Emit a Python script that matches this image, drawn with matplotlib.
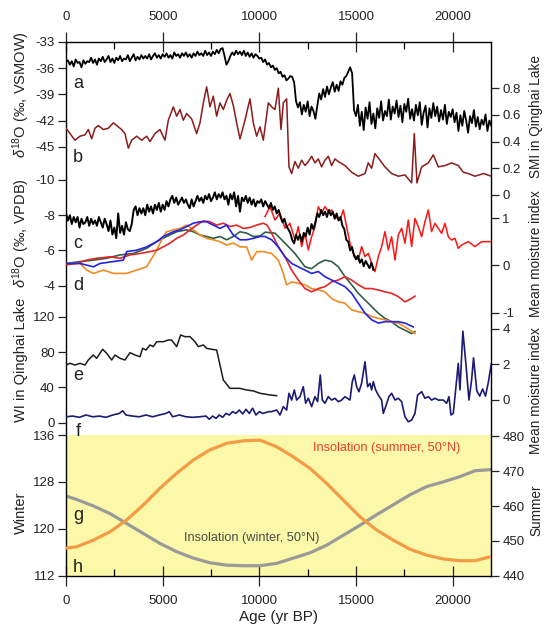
import numpy as np
import matplotlib
matplotlib.use('Agg')
import matplotlib.pyplot as plt
from matplotlib.ticker import MultipleLocator

plt.rcParams['font.family'] = ['Liberation Sans', 'DejaVu Sans']
plt.rcParams['axes.unicode_minus'] = False
plt.rcParams['mathtext.fontset'] = 'custom'
plt.rcParams['mathtext.rm'] = 'Liberation Sans'
plt.rcParams['mathtext.it'] = 'Liberation Sans:italic'

# ---------------- data ----------------
# a : ice core d18O (permil VSMOW), one value every 100 yr, 0..22000
age_a = np.arange(0, 22001, 100)
d18o_vsmow = [
    -35.3, -35.1, -35.6, -35.2, -35.8, -35.0, -35.4, -35.3, -35.9, -35.1,
    -35.5, -35.2, -35.3, -34.8, -35.4, -35.0, -35.6, -34.9, -35.2, -34.7,
    -35.3, -35.0, -34.6, -35.3, -34.9, -35.4, -34.8, -35.1, -34.6, -35.2,
    -34.9, -35.0, -34.5, -35.2, -34.8, -34.4, -35.1, -34.7, -35.0, -34.5,
    -34.9, -34.6, -34.9, -34.4, -35.0, -34.6, -34.3, -34.8, -34.5, -34.9,
    -34.4, -34.7, -34.3, -34.8, -34.5, -34.9, -34.2, -34.6, -34.4, -34.8,
    -34.3, -34.6, -34.2, -34.7, -34.4, -34.8, -34.3, -34.6, -34.1, -34.5,
    -34.3, -34.6, -34.0, -34.5, -34.2, -34.6, -34.1, -34.4, -33.9, -34.3,
    -33.8, -33.7, -34.6, -35.6, -35.2, -34.6, -34.2, -34.5, -34.0, -34.4,
    -34.1, -34.5, -34.0, -34.6, -34.2, -34.7, -34.3, -34.8, -34.4, -34.6,
    -34.9, -34.8, -35.3, -35.0, -35.6, -35.4, -35.9, -35.7, -36.2, -36.0,
    -36.6, -36.4, -37.0, -36.8, -37.4, -37.2, -36.9, -37.0, -37.6, -39.8,
    -40.5, -39.9, -41.3, -40.2, -41.0, -39.8, -41.5, -40.4, -40.9, -41.8,
    -40.3, -38.9, -39.6, -38.4, -39.3, -38.1, -39.0, -38.2, -37.6, -38.7,
    -37.9, -38.6, -37.5, -37.9, -37.1, -36.9, -36.4, -35.9, -36.6, -40.8,
    -41.5, -40.2, -42.6, -41.0, -43.1, -40.5, -41.8, -39.9, -42.4, -41.2,
    -42.9, -40.6, -41.7, -39.8, -42.0, -40.9, -41.5, -39.6, -41.9, -40.4,
    -41.2, -39.7, -41.6, -40.3, -42.2, -40.1, -41.0, -39.5, -41.8, -40.7,
    -42.0, -40.2, -41.4, -39.9, -42.5, -41.1, -40.3, -42.8, -40.6, -41.7,
    -40.0, -41.5, -40.4, -42.1, -40.8, -41.9, -40.2, -42.4, -41.0, -41.6,
    -40.7, -42.2, -41.1, -43.2, -41.4, -42.6, -40.9, -42.0, -43.4, -41.5,
    -42.3, -40.8, -42.7, -41.6, -43.0, -41.9, -42.5, -41.3, -43.2, -42.0,
    -42.6]

# b : SMI in Qinghai Lake
smi_pts = [
    (0, .50), (207, .46), (465, .41), (724, .44), (983, .45), (1155, .49), (1328, .42),
    (1500, .50), (1672, .52), (1931, .49), (2190, .50), (2448, .54), (2707, .51),
    (2879, .49), (3051, .46), (3224, .35), (3396, .41), (3655, .44), (3914, .41),
    (4172, .44), (4345, .40), (4603, .46), (4862, .49), (5120, .41), (5293, .56),
    (5551, .66), (5724, .59), (5896, .64), (6069, .56), (6241, .61), (6500, .57),
    (6758, .46), (6931, .54), (7103, .69), (7275, .81), (7448, .66), (7620, .74),
    (7793, .59), (7965, .69), (8138, .64), (8310, .71), (8482, .76), (8655, .67),
    (8827, .54), (9000, .42), (9258, .56), (9517, .72), (9689, .54), (9862, .44),
    (10034, .51), (10206, .41), (10465, .69), (10637, .66), (10809, .64), (10982, .80),
    (11120, .49), (11240, .69), (11413, .72), (11534, .21), (11672, .16), (11844, .25),
    (12016, .20), (12189, .26), (12361, .22), (12534, .25), (12706, .29), (12878, .24),
    (13051, .27), (13223, .21), (13396, .26), (13568, .29), (13740, .22), (13913, .27),
    (14085, .25), (14430, .22), (14775, .17), (15120, .14), (15465, .16), (15637, .24),
    (15810, .20), (15982, .31), (16241, .26), (16499, .21), (16844, .16), (17189, .14),
    (17534, .15), (17879, .09), (18016, .46), (18154, .09), (18396, .21), (18741, .24),
    (18999, .30), (19258, .21), (19603, .22), (19948, .24), (20292, .22), (20551, .17),
    (20810, .16), (21154, .14), (21600, .16), (22000, .14)]

# c : speleothem d18O (permil VPDB); black record every 100 yr, 0..15900
age_c = np.arange(0, 16000, 100)
d18o_vpdb = [
    -8.1, -7.7, -8.0, -7.5, -7.9, -7.6, -7.9, -7.3, -7.8, -7.5,
    -7.6, -7.9, -7.4, -7.8, -7.5, -7.7, -7.4, -7.9, -7.6, -7.3,
    -7.8, -7.5, -7.1, -7.7, -6.9, -7.3, -6.7, -8.1, -7.0, -7.4,
    -6.9, -7.6, -7.2, -7.1, -7.5, -8.3, -8.5, -8.0, -8.4, -8.1,
    -8.4, -8.0, -8.6, -8.2, -8.5, -8.1, -8.6, -8.3, -8.7, -8.2,
    -8.6, -8.3, -8.8, -8.5, -8.9, -9.1, -8.7, -9.0, -8.6, -8.8,
    -9.0, -8.7, -8.9, -8.6, -8.4, -8.9, -8.5, -8.8, -9.1, -8.8,
    -9.0, -8.7, -9.1, -8.9, -9.2, -8.8, -9.0, -9.3, -8.9, -9.2,
    -9.0, -9.3, -8.9, -9.1, -8.6, -9.2, -8.9, -9.3, -8.5, -9.1,
    -8.2, -9.0, -8.8, -9.1, -8.7, -9.0, -8.6, -8.9, -8.5, -8.8,
    -8.7, -8.9, -8.5, -8.8, -8.6, -8.4, -8.7, -8.3, -8.5, -8.1,
    -8.3, -7.9, -7.6, -7.8, -7.4, -7.2, -7.0, -6.6, -6.4, -6.9,
    -6.6, -6.9, -6.5, -7.0, -6.8, -7.3, -6.9, -7.5, -7.2, -7.6,
    -8.1, -7.9, -8.3, -8.0, -8.2, -7.9, -8.3, -8.0, -8.2, -7.8,
    -8.1, -7.7, -7.9, -7.4, -7.2, -6.6, -6.5, -6.0, -6.2, -5.7,
    -5.5, -5.7, -5.3, -5.5, -5.1, -5.4, -5.2, -5.0, -5.3, -4.9]

# c : second (red) speleothem record
vpdb_red_pts = [
    (10292, -7.92), (10551, -8.49), (10809, -7.73), (11068, -8.11), (11327, -7.26),
    (11586, -7.54), (11844, -6.59), (12016, -7.35), (12189, -6.22), (12361, -6.97),
    (12534, -6.03), (12706, -6.78), (12878, -7.35), (13051, -8.49), (13223, -8.11),
    (13396, -8.49), (13568, -8.20), (13740, -8.30), (13913, -7.92), (14171, -7.73),
    (14344, -8.30), (14516, -7.35), (14689, -6.41), (14861, -5.84), (15120, -5.46),
    (15292, -6.22), (15465, -5.65), (15637, -5.84), (15810, -5.27), (15982, -4.80),
    (16155, -5.65), (16327, -6.22), (16499, -7.07), (16672, -6.03), (16844, -6.78),
    (17017, -5.46), (17189, -6.88), (17362, -7.26), (17534, -6.41), (17706, -7.73),
    (17879, -6.22), (18051, -7.82), (18223, -7.35), (18396, -6.78), (18568, -7.63),
    (18741, -8.30), (18913, -7.07), (19086, -7.54), (19258, -7.26), (19430, -6.97),
    (19603, -7.54), (19775, -6.78), (19948, -6.59), (20120, -6.69), (20292, -6.12),
    (20465, -6.31), (20637, -6.41), (20810, -6.50), (21154, -6.22), (21500, -6.50),
    (22000, -6.50)]

# d : mean moisture index, four regional composites
mmi_green = [
    (0, .04), (724, .08), (1414, .11), (2103, .15), (2793, .22), (3483, .25), (4172, .36),
    (4690, .50), (5207, .61), (5724, .71), (6241, .75), (6586, .71), (6931, .64),
    (7275, .61), (7620, .57), (7965, .61), (8310, .54), (8655, .61), (9000, .71),
    (9345, .68), (9689, .61), (10034, .62), (10300, .70), (10809, .68), (11327, .47),
    (11844, .25), (12361, -.03), (12706, -.07), (13051, .04), (13396, .11), (13740, .08),
    (14085, -.03), (14430, -.24), (14775, -.41), (15120, -.59), (15465, -.73),
    (15810, -.87), (16155, -1.01), (16499, -1.12), (16844, -1.19), (17189, -1.30),
    (17534, -1.37), (17879, -1.44), (18050, -1.40)]
mmi_blue = [
    (0, .04), (724, .04), (1414, -.03), (1759, .04), (2448, .08), (2966, .11), (3138, .29),
    (3655, .32), (4172, .39), (4690, .50), (5034, .61), (5551, .71), (5896, .75),
    (6241, .82), (6586, .89), (6931, .92), (7275, .92), (7620, .85), (7965, .78),
    (8310, .85), (8655, .64), (9000, .54), (9345, .54), (9689, .57), (10034, .61),
    (10292, .61), (10637, .54), (10982, .39), (11327, .18), (11672, .04), (12016, -.03),
    (12361, -.10), (12706, -.17), (13051, -.13), (13396, -.24), (13740, -.31),
    (14085, -.38), (14430, -.45), (14775, -.59), (15120, -.80), (15465, -1.01),
    (15810, -1.15), (16155, -1.22), (16499, -1.19), (16844, -1.19), (17189, -1.19),
    (17534, -1.22), (17965, -1.30)]
mmi_red = [
    (0, .01), (552, .04), (1069, .11), (1586, .15), (2276, .18), (2793, .15), (3310, .22),
    (3827, .25), (4345, .29), (4690, .32), (5034, .39), (5379, .47), (5724, .57),
    (6069, .64), (6414, .75), (6758, .85), (7103, .94), (7448, .92), (7793, .85),
    (8138, .89), (8482, .82), (8827, .85), (9172, .78), (9517, .80), (9862, .85),
    (10206, .89), (10400, .85), (10637, .68), (10982, .39), (11327, .18), (11672, -.10),
    (12016, -.31), (12361, -.49), (12706, -.56), (13051, -.49), (13396, -.45),
    (13740, -.35), (14085, -.31), (14430, -.24), (14775, -.31), (15120, -.41),
    (15465, -.49), (15810, -.49), (16155, -.52), (16499, -.56), (16844, -.59),
    (17189, -.66), (17534, -.77), (17879, -.70), (18051, -.65)]
mmi_orange = [
    (0, .04), (724, .04), (1069, -.10), (1414, -.17), (1931, -.10), (2448, -.17),
    (3138, -.17), (3655, -.10), (4172, -.03), (4690, .32), (5034, .61), (5207, .71),
    (5551, .75), (5896, .78), (6241, .85), (6586, .75), (6931, .64), (7275, .57),
    (7620, .54), (7965, .50), (8310, .43), (8655, .47), (9000, .39), (9345, .39),
    (9603, .11), (9862, .29), (10206, .29), (10637, .25), (10982, .11), (11240, -.17),
    (11413, -.41), (11672, -.35), (12016, -.38), (12361, -.41), (12706, -.49),
    (13051, -.52), (13396, -.56), (13740, -.70), (14085, -.77), (14430, -.80),
    (14775, -.94), (15120, -.98), (15465, -1.01), (15810, -1.08), (16155, -1.12),
    (16499, -1.15), (16844, -1.19), (17189, -1.22), (17534, -1.30), (18051, -1.44)]

# e : WI in Qinghai Lake
wi_pts = [
    (0, 65.3), (207, 67.2), (465, 65.3), (724, 67.2), (983, 65.3), (1155, 71.0),
    (1414, 76.6), (1586, 72.9), (1896, 83.1), (2103, 78.6), (2362, 71.0), (2534, 76.6),
    (2793, 72.9), (3051, 71.0), (3310, 79.3), (3569, 76.6), (3827, 74.7), (3965, 84.2),
    (4138, 82.3), (4345, 88.0), (4517, 86.1), (4690, 91.7), (5034, 91.7), (5293, 93.6),
    (5465, 93.6), (5724, 86.1), (5931, 99.3), (6155, 97.4), (6414, 97.4), (6672, 91.7),
    (6844, 86.1), (7103, 88.0), (7275, 84.2), (7534, 83.1), (7793, 82.3), (8138, 48.3),
    (8482, 38.9), (9000, 38.9), (9345, 37.0), (9689, 36.0), (10034, 33.3),
    (10551, 31.4), (10896, 30.6)]

# f : mean moisture index (second region)
mmi2_pts = [
    (0, -.96), (345, -.92), (690, -.99), (1034, -.86), (1379, -.96), (1724, -.92),
    (2069, -.99), (2414, -.86), (2758, -.77), (2931, -.62), (3103, -.86), (3448, -.92),
    (3793, -.96), (4138, -.86), (4483, -.96), (4827, -.86), (5172, -.77), (5345, -.67),
    (5517, -.96), (5862, -.86), (6207, -.96), (6552, -.99), (6896, -.96), (7241, -.92),
    (7414, -1.10), (7586, -.92), (7758, -1.05), (7931, -.86), (8103, -.99), (8276, -.77),
    (8448, -.86), (8620, -.67), (8793, -.77), (8965, -.58), (9138, -.80), (9310, -.54),
    (9483, -.77), (9655, -.48), (9827, -.86), (10000, -.67), (10172, -.77),
    (10500, -.67), (10637, -.67), (10896, -.58), (11068, -.86), (11240, -.39),
    (11413, -.58), (11534, .36), (11672, -.02), (11810, .55), (11930, -.02),
    (12103, .17), (12275, .73), (12396, -.20), (12534, .08), (12706, -.39),
    (12878, .17), (13016, -.11), (13154, 1.39), (13258, -.02), (13396, -.20),
    (13568, .17), (13740, -.02), (13913, .08), (14085, -.11), (14258, -.02),
    (14430, .17), (14689, -.02), (14810, 1.01), (14913, 1.39), (15034, .73),
    (15154, .45), (15292, .92), (15465, 2.13), (15603, .73), (15723, .92),
    (15810, .55), (15896, 1.01), (16017, .55), (16155, .26), (16327, -.02),
    (16413, -.77), (16534, -.39), (16706, .17), (16844, .36), (17017, -.02),
    (17189, .08), (17362, -.11), (17534, -.96), (17706, -1.24), (17879, -1.14),
    (18051, -.77), (18189, .26), (18396, .45), (18568, .08), (18741, .17),
    (18913, -.02), (19086, .08), (19258, -.02), (19516, -.02), (19689, -.20),
    (19810, .17), (19913, -.86), (20034, -.77), (20155, .55), (20292, 2.04),
    (20379, .55), (20530, 3.85), (20700, 1.85), (20843, -.02), (20982, 1.11),
    (21080, 2.35), (21250, .50), (21400, .20), (21550, .60), (21700, .20),
    (21850, 1.00), (22000, 2.00)]

# g / h : insolation at 50N (W/m2)
ins_age = [0, 552, 1414, 2276, 3138, 4000, 4862, 5724, 6586, 7448, 8310, 9172, 10034,
           10896, 11758, 12620, 13482, 14344, 15206, 16068, 16930, 17792, 18654, 19516,
           20378, 21154, 22000]
ins_winter = [125.6, 125.0, 123.9, 122.6, 120.9, 119.2, 117.5, 116.1, 115.0, 114.2,
              113.8, 113.7, 113.7, 114.1, 115.0, 115.9, 117.2, 118.9, 120.6, 122.4,
              124.1, 125.8, 127.2, 128.0, 128.9, 129.9, 130.1]
ins_summer = [447.9, 448.3, 450.2, 452.6, 456.0, 460.3, 465.1, 469.4, 473.2, 476.1,
              478.0, 478.7, 478.9, 477.0, 474.1, 470.8, 466.5, 461.7, 456.9, 453.1,
              450.2, 447.6, 445.9, 444.8, 444.3, 444.3, 445.5]

# ---------------- layout (pixel rows / columns of the 545x631 image) ----------------
W, H = 545, 631
L, R, T, B = 66, 491.3, 42, 575.7
rect = [L / W, 1 - B / H, (R - L) / W, (B - T) / H]


def fx(px):
    return px / W


def fy(py):
    return 1 - py / H


def ylims(v1, p1, v2, p2):
    # y limits so that value v1 sits at pixel row p1 and v2 at row p2
    k = (v1 - v2) / (p2 - p1)
    return v2 - (B - p2) * k, v1 + (p1 - T) * k


TXT = '#222222'
fig = plt.figure(figsize=(W / 100, H / 100), dpi=100)

# main axes = winter insolation scale, carries the frame and the x axis
ax = fig.add_axes(rect)
ax.set_xlim(0, 22000)
ax.set_ylim(*ylims(136, 435, 112, B))
ax.axhspan(112, 136, color='#fbf8a9', lw=0, zorder=0)
ax.plot(ins_age, ins_winter, color='#9a9a9a', lw=2.3, zorder=2)
ax.text(9600, 118.4, 'Insolation (winter, 50°N)', color='#4a4a4a', fontsize=9.2,
        ha='center', va='center')
ax.set_yticks([112, 120, 128, 136], labels=['112', '120', '128', '136'])
ax.xaxis.set_major_locator(MultipleLocator(5000))
ax.xaxis.set_minor_locator(MultipleLocator(2500))
ax.tick_params(axis='x', which='major', direction='inout', length=14, width=0.9,
               top=True, labeltop=True, pad=7, labelsize=9.5, colors=TXT)
ax.tick_params(axis='x', which='minor', direction='in', length=5, width=0.9, top=True)
ax.tick_params(axis='y', direction='out', length=6, width=0.9, pad=2, labelsize=9.5,
               colors=TXT)
for s in ax.spines.values():
    s.set_linewidth(1.0)
ax.set_xlabel('Age (yr BP)', fontsize=11, color=TXT, labelpad=2)


def overlay(side, ticks, lim):
    a = fig.add_axes(rect, facecolor='none')
    a.set_xlim(0, 22000)
    a.set_ylim(*lim)
    a.xaxis.set_visible(False)
    for s in a.spines.values():
        s.set_visible(False)
    if side == 'right':
        a.yaxis.tick_right()
    a.set_yticks(ticks, labels=['%g' % t for t in ticks])
    a.tick_params(axis='y', direction='out', length=6, width=0.9, pad=2,
                  labelsize=9.5, colors=TXT)
    return a


ax_sum = overlay('right', [440, 450, 460, 470, 480], ylims(480, 436.3, 440, B))
ax_sum.plot(ins_age, ins_summer, color='#f39b45', lw=2.3)
ax_sum.text(16600, 476.6, 'Insolation (summer, 50°N)', color='#e8422a', fontsize=9.2,
            ha='center', va='center')

ax_wi = overlay('left', [0, 40, 80, 120], ylims(120, 316.7, 0, 422.7))
x, y = np.array(wi_pts).T
ax_wi.plot(x, y, color='#1c1c1c', lw=1.1)

ax_m2 = overlay('right', [0, 2, 4], ylims(4, 328.5, 0, 399.7))
x, y = np.array(mmi2_pts).T
ax_m2.plot(x, y, color='#1b1b73', lw=1.2)

ax_m1 = overlay('right', [-1, 0, 1], ylims(1, 218, -1, 312.7))
for pts, c in [(mmi_green, '#2f5f45'), (mmi_orange, '#f08a24'),
               (mmi_red, '#e32626'), (mmi_blue, '#2323e6')]:
    x, y = np.array(pts).T
    ax_m1.plot(x, y, color=c, lw=1.2)

ax_vp = overlay('left', [-10, -8, -6, -4], ylims(-10, 180, -4, 285.7))
x, y = np.array(vpdb_red_pts).T
ax_vp.plot(x, y, color='#ff1414', lw=1.1)
ax_vp.plot(age_c, d18o_vpdb, color='black', lw=1.4)

ax_smi = overlay('right', [0, 0.2, 0.4, 0.6, 0.8], ylims(0.8, 88.2, 0, 194.9))
x, y = np.array(smi_pts).T
ax_smi.plot(x, y, color='#8b1c1c', lw=1.1)

ax_vs = overlay('left', [-33, -36, -39, -42, -45], ylims(-33, 42, -45, 146.7))
ax_vs.plot(age_a, d18o_vsmow, color='black', lw=1.3)

# axis titles
left_titles = [(r'$\delta^{18}$O (‰, VSMOW)', 95), (r'$\delta^{18}$O (‰, VPDB)', 233),
               ('WI in Qinghai Lake', 360), ('Winter', 513)]
right_titles = [('SMI in Qinghai Lake', 116), ('Mean moisture index', 254),
                ('Mean moisture index', 391), ('Summer', 510)]
for s, row in left_titles:
    fig.text(fx(21), fy(row), s, rotation=90, ha='center', va='center',
             fontsize=10.5, color=TXT)
for s, row in right_titles:
    fig.text(fx(536), fy(row), s, rotation=90, ha='center', va='center',
             fontsize=9.8, color=TXT)

# panel letters
for s, row in [('a', 83), ('b', 157), ('c', 244), ('d', 285), ('e', 376),
               ('f', 432), ('g', 515), ('h', 567)]:
    fig.text(fx(78), fy(row), s, ha='center', va='center', fontsize=13, color=TXT)

fig.savefig('out.png', dpi=100)
